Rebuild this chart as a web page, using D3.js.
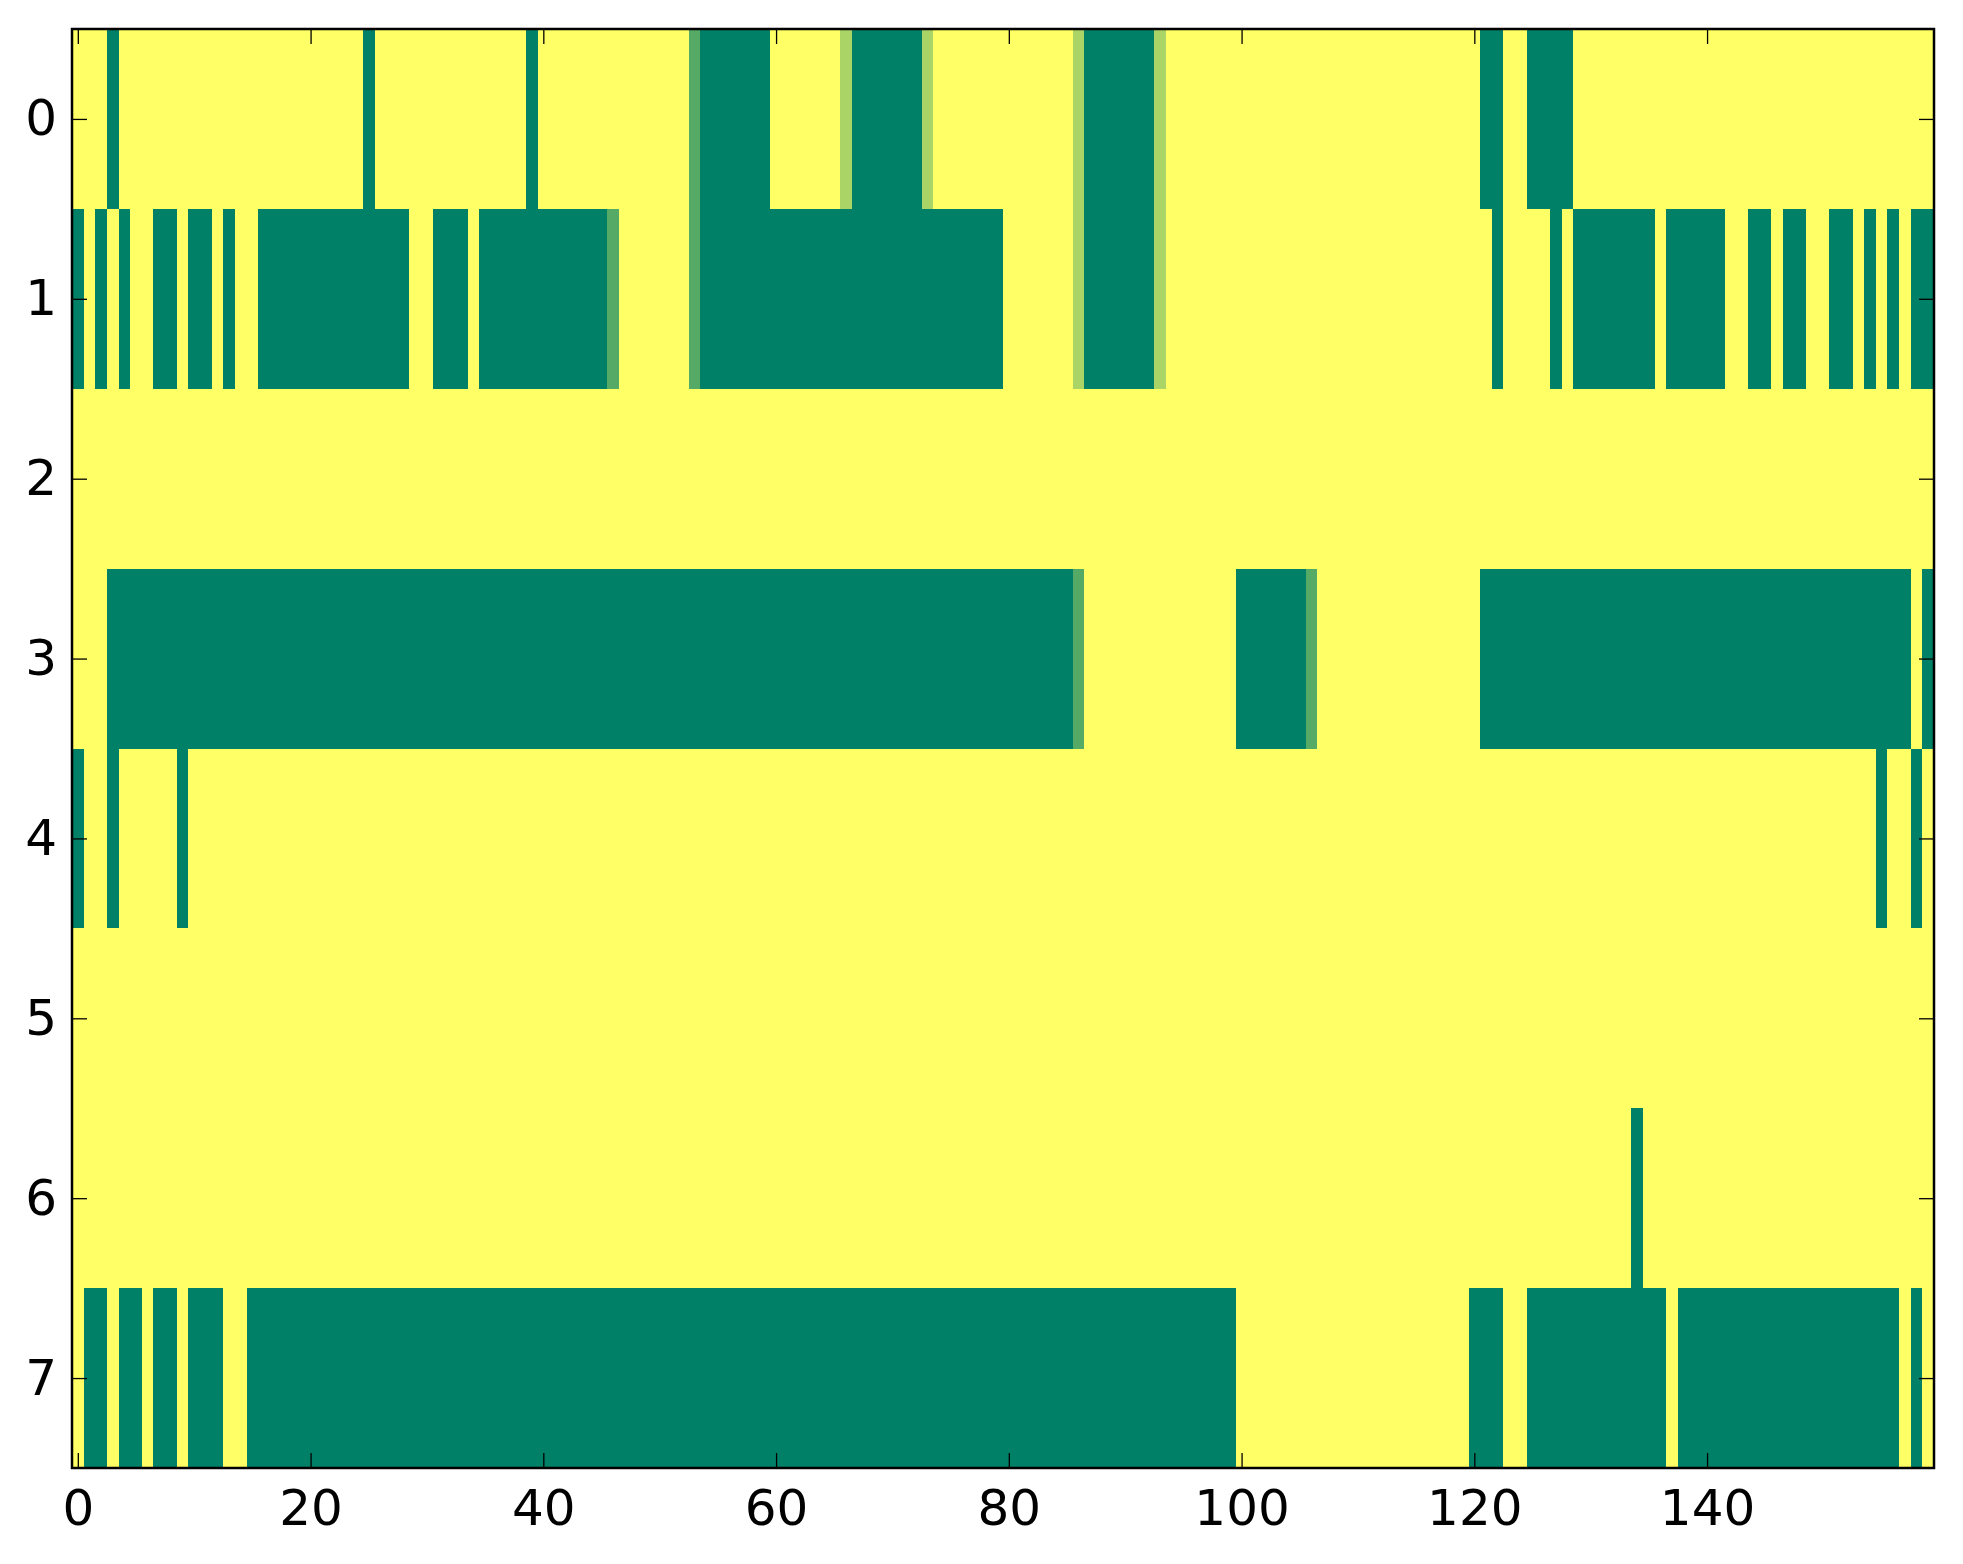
<!DOCTYPE html>
<html>
<head>
<meta charset="utf-8">
<script src="https://cdn.jsdelivr.net/npm/d3@7"></script>
<style>
  body { margin: 0; background: #fff; }
  text { font-family: "DejaVu Sans", sans-serif; }
</style>
</head>
<body>
<script>
// matrix values, one string per row, each char is the value in thirds (0 = 0, 3 = 1)
var row0 = "3330333333" + "3333333333" + "3333303333" + "3333333330" + "3333333333" +
           "3331000000" + "3333332000" + "0002333333" + "3333332000" + "0002333333" +
           "3333333333" + "3333333333" + "3003300003" + "3333333333" + "3333333333" + "3333333333";
var row1 = "0303033003" + "0030330000" + "0000000003" + "3000300000" + "0000001333" +
           "3331000000" + "0000000000" + "0000000000" + "3333332000" + "0002333333" +
           "3333333333" + "3333333333" + "3303333030" + "0000003000" + "0033003003" + "3003030300";
var row2 = "3333333333" + "3333333333" + "3333333333" + "3333333333" + "3333333333" +
           "3333333333" + "3333333333" + "3333333333" + "3333333333" + "3333333333" +
           "3333333333" + "3333333333" + "3333333333" + "3333333333" + "3333333333" + "3333333333";
var row3 = "3330000000" + "0000000000" + "0000000000" + "0000000000" + "0000000000" +
           "0000000000" + "0000000000" + "0000000000" + "0000001333" + "3333333333" +
           "0000001333" + "3333333333" + "3000000000" + "0000000000" + "0000000000" + "0000000030";
var row4 = "0330333330" + "3333333333" + "3333333333" + "3333333333" + "3333333333" +
           "3333333333" + "3333333333" + "3333333333" + "3333333333" + "3333333333" +
           "3333333333" + "3333333333" + "3333333333" + "3333333333" + "3333333333" + "3333303303";
var row5 = "3333333333" + "3333333333" + "3333333333" + "3333333333" + "3333333333" +
           "3333333333" + "3333333333" + "3333333333" + "3333333333" + "3333333333" +
           "3333333333" + "3333333333" + "3333333333" + "3333333333" + "3333333333" + "3333333333";
var row6 = "3333333333" + "3333333333" + "3333333333" + "3333333333" + "3333333333" +
           "3333333333" + "3333333333" + "3333333333" + "3333333333" + "3333333333" +
           "3333333333" + "3333333333" + "3333333333" + "3333033333" + "3333333333" + "3333333333";
var row7 = "3003003003" + "0003300000" + "0000000000" + "0000000000" + "0000000000" +
           "0000000000" + "0000000000" + "0000000000" + "0000000000" + "0000000000" +
           "3333333333" + "3333333333" + "0003300000" + "0000000300" + "0000000000" + "0000000303";

var rows = [row0, row1, row2, row3, row4, row5, row6, row7];
var xTicks = [0, 20, 40, 60, 80, 100, 120, 140];
var yTicks = [0, 1, 2, 3, 4, 5, 6, 7];

// build cells
var cells = [];
rows.forEach(function(r, i) {
  for (var j = 0; j < r.length; j++) {
    cells.push({row: i, col: j, value: +r[j] / 3});
  }
});
var nCols = row0.length;

//set up svg
var margin = {top: 29, right: 29, bottom: 96, left: 72};
var width = 1862;
var height = 1439;

var svg = d3.select("body").append("svg")
  .attr("width", 1963)
  .attr("height", 1564)
  .append("g")
  .attr("transform", "translate(" + margin.left + "," + margin.top + ")");

var x = d3.scaleLinear().domain([-0.5, nCols - 0.5]).range([0, width]);
var y = d3.scaleLinear().domain([-0.5, rows.length - 0.5]).range([0, height]);

// matplotlib "summer" colormap
function summer(v) {
  return d3.rgb(255 * v, 255 * (0.5 + v / 2), 102).toString();
}

svg.append("g")
  .attr("shape-rendering", "crispEdges")
  .selectAll(".cell")
  .data(cells)
  .enter()
  .append("rect")
  .attr("class", "cell")
  .attr("x", function(d) { return x(d.col - 0.5); })
  .attr("y", function(d) { return y(d.row - 0.5); })
  .attr("width", x(1) - x(0) + 0.5)
  .attr("height", y(1) - y(0) + 0.5)
  .attr("fill", function(d) { return summer(d.value); });

// axes, ticks pointing in
function styleAxis(g) {
  g.select(".domain").remove();
  g.selectAll(".tick line").attr("stroke", "#000").attr("stroke-width", 1.3);
  g.selectAll("text").attr("fill", "#000").style("font-size", "50px");
}

svg.append("g")
  .attr("transform", "translate(0," + height + ")")
  .call(d3.axisBottom(x).tickValues(xTicks).tickSizeInner(-15).tickSizeOuter(0).tickPadding(21))
  .call(styleAxis);

svg.append("g")
  .call(d3.axisTop(x).tickValues(xTicks).tickSizeInner(-15).tickSizeOuter(0).tickFormat(""))
  .call(styleAxis);

svg.append("g")
  .call(d3.axisLeft(y).tickValues(yTicks).tickSizeInner(-15).tickSizeOuter(0).tickPadding(15))
  .call(styleAxis);

svg.append("g")
  .attr("transform", "translate(" + width + ",0)")
  .call(d3.axisRight(y).tickValues(yTicks).tickSizeInner(-15).tickSizeOuter(0).tickFormat(""))
  .call(styleAxis);

// frame
svg.append("rect")
  .attr("x", 0)
  .attr("y", 0)
  .attr("width", width)
  .attr("height", height)
  .attr("fill", "none")
  .attr("stroke", "#000")
  .attr("stroke-width", 2.5);
</script>
</body>
</html>
